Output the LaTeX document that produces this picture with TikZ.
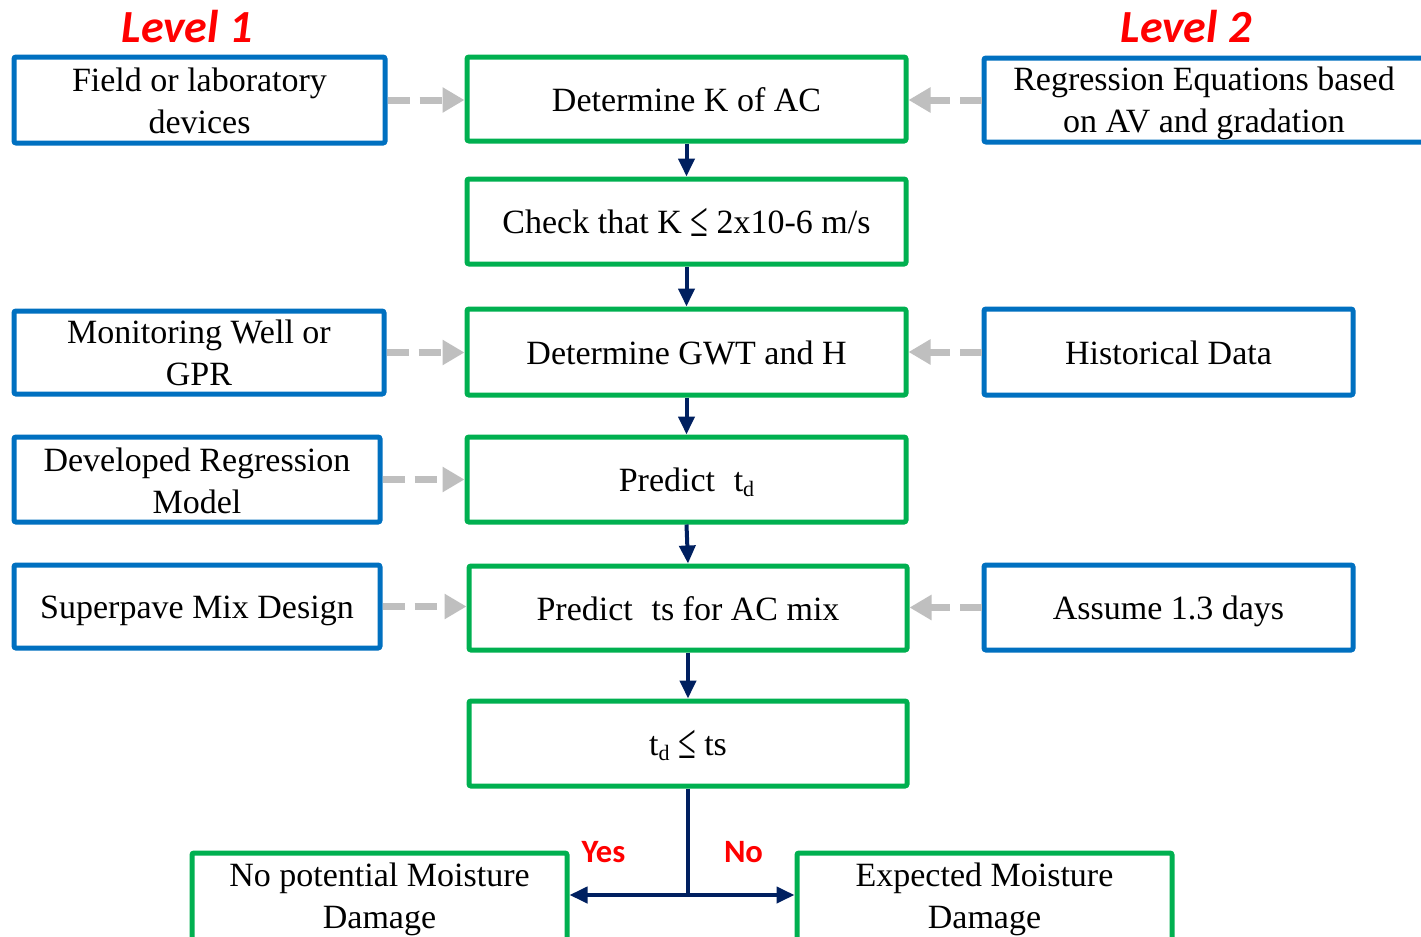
\documentclass[tikz,border=0pt]{standalone}
\usepackage{fontspec}
\usepackage{graphicx}
\setmainfont{Liberation Serif}
\newfontfamily\lvlfont{Carlito}
\usetikzlibrary{arrows.meta}
\definecolor{bluec}{RGB}{0,112,192}
\definecolor{greenc}{RGB}{0,176,80}
\definecolor{navyc}{RGB}{0,32,96}
\definecolor{grayc}{RGB}{191,191,191}
\definecolor{redc}{RGB}{255,0,0}
\tikzset{
  bx/.style={draw, line width=2.5pt, rounded corners=1pt, align=center, inner sep=0pt, fill=white, font=\fontsize{17}{21}\selectfont},
  one/.style={text height=12pt, text depth=0pt},
  bluebox/.style={bx, draw=bluec},
  greenbox/.style={bx, draw=greenc},
  flow/.style={draw=navyc, line width=2pt, -{Triangle[length=9pt,width=8pt]}},
  flowline/.style={draw=navyc, line width=2pt},
  feed/.style={draw=grayc, line width=3.5pt, dash pattern=on 11pt off 5pt, -{Triangle[length=11pt,width=12pt]}},
  lvl/.style={text=redc, font=\lvlfont\bfseries\itshape\fontsize{23}{23}\selectfont},
  yn/.style={text=redc, font=\lvlfont\bfseries\fontsize{16.3}{16.3}\selectfont}
}
\newcommand{\tsub}[1]{t\raisebox{-0.35ex}{\fontsize{11}{11}\selectfont #1}}
\newcommand{\myle}{\raisebox{-1.3pt}{\scalebox{0.95}[1.45]{≤}}}
\begin{document}
\begin{tikzpicture}[x=0.5pt,y=-0.5pt]
\useasboundingbox (0,0) rectangle (1421,937);
\clip (0,0) rectangle (1421,937);
\fill[white] (0,0) rectangle (1421,937);

\node[lvl] (l1) at (187,27) {Level 1};
\node[lvl] (l2) at (1186,27) {Level 2};

\node[bluebox, minimum width=185.5pt, minimum height=43pt] (fld) at (199.5,100) {\rule{0pt}{12.5pt}Field or laboratory\\devices};
\node[greenbox, one, minimum width=219.5pt, minimum height=42pt] (K) at (686.5,99) {Determine K of AC};
\node[bluebox, minimum width=220pt, minimum height=42pt] (reg) at (1204,100) {\rule{0pt}{15.5pt}Regression Equations based\\on AV and gradation};

\node[greenbox, one, minimum width=219.5pt, minimum height=42.5pt] (chk) at (686.5,221.5) {Check that K \myle{} 2x10-6 m/s};

\node[bluebox, minimum width=185pt, minimum height=41.5pt] (mon) at (199,352.5) {\rule{0pt}{12.5pt}Monitoring Well or\\GPR};
\node[greenbox, one, minimum width=219.5pt, minimum height=43pt] (gwt) at (686.5,352) {Determine GWT and H};
\node[bluebox, one, minimum width=184.5pt, minimum height=43pt] (his) at (1168.5,352) {Historical Data};

\node[bluebox, minimum width=183pt, minimum height=42.5pt] (dev) at (197,479.5) {\rule{0pt}{13pt}Developed Regression\\Model};
\node[greenbox, one, minimum width=219.5pt, minimum height=42.5pt] (ptd) at (686.5,479.5) {Predict\hspace{0.55em}\tsub{d}};

\node[bluebox, one, minimum width=183pt, minimum height=41.5pt] (sup) at (197,606.5) {Superpave Mix Design};
\node[greenbox, one, minimum width=219pt, minimum height=42pt] (pts) at (688,608) {Predict\hspace{0.55em}ts for AC mix};
\node[bluebox, one, minimum width=184.5pt, minimum height=42.5pt] (ass) at (1168.5,607.5) {Assume 1.3 days};

\node[greenbox, one, minimum width=219pt, minimum height=42.5pt] (tdts) at (688,743.5) {\tsub{d} \myle{} ts};

\node[greenbox, minimum width=187.5pt, minimum height=44pt] (nop) at (379.5,897) {\rule{0pt}{14.6pt}No potential Moisture\\Damage};
\node[greenbox, minimum width=187.5pt, minimum height=44pt] (exp) at (984.5,897) {\rule{0pt}{14.6pt}Expected Moisture\\Damage};

\draw[feed] (fld.east) -- (fld.east -| K.west);
\draw[feed] (reg.west) -- (reg.west -| K.east);
\draw[feed] (mon.east) -- (mon.east -| gwt.west);
\draw[feed] (his.west) -- (his.west -| gwt.east);
\draw[feed] (dev.east) -- (dev.east -| ptd.west);
\draw[feed] (sup.east) -- (sup.east -| pts.west);
\draw[feed] (ass.west) -- (ass.west -| pts.east);

\draw[flow] (K) -- (chk);
\draw[flow] (chk) -- (gwt);
\draw[flow] (gwt) -- (ptd);
\draw[flow] (ptd.south) -- (pts.north);
\draw[flow] (pts) -- (tdts);

\coordinate (j) at (688,895);
\draw[flowline] (tdts.south) -- (j);
\draw[flow] (j) -- (j -| nop.east);
\draw[flow] (j) -- (j -| exp.west);

\node[yn] (yes) at (603.5,852.5) {Yes};
\node[yn] (no) at (743.5,852.5) {No};
\end{tikzpicture}
\end{document}
